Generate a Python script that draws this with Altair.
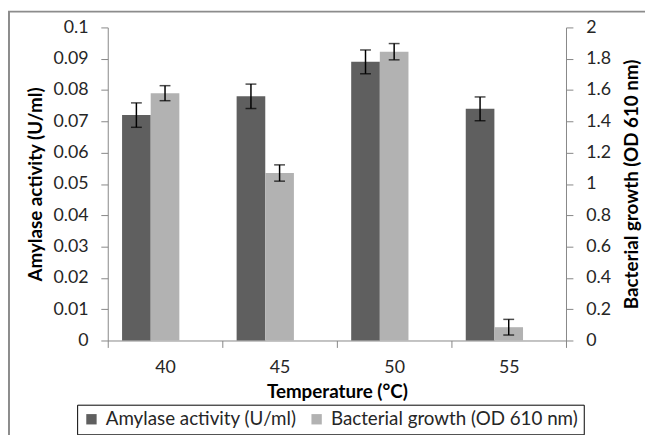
import altair as alt
import pandas as pd

# ---- data ----
temps = ["40", "45", "50", "55"]
amylase = [0.072, 0.078, 0.089, 0.074]
amylase_err = [0.0039, 0.0039, 0.0038, 0.0038]
growth = [1.58, 1.07, 1.845, 0.085]
growth_err = [0.048, 0.052, 0.052, 0.05]
series = ["Amylase activity (U/ml)", "Bacterial growth (OD 610 nm)"]
colors = ["#5f5f5f", "#b2b2b2"]
left_ticks = [0, 0.01, 0.02, 0.03, 0.04, 0.05, 0.06, 0.07, 0.08, 0.09, 0.1]
right_ticks = [0, 0.2, 0.4, 0.6, 0.8, 1.0, 1.2, 1.4, 1.6, 1.8, 2.0]

df_a = pd.DataFrame({
    "temp": temps,
    "value": amylase,
    "lo": [v - e for v, e in zip(amylase, amylase_err)],
    "hi": [v + e for v, e in zip(amylase, amylase_err)],
    "series": series[0],
})
df_g = pd.DataFrame({
    "temp": temps,
    "value": growth,
    "lo": [v - e for v, e in zip(growth, growth_err)],
    "hi": [v + e for v, e in zip(growth, growth_err)],
    "series": series[1],
})

FONT = "Lato"
GRAY = "#868686"
TXT = "#262626"

x_enc = alt.X(
    "temp:N", sort=temps,
    scale=alt.Scale(paddingInner=0, paddingOuter=0),
    axis=alt.Axis(
        title="Temperature (°C)", labelAngle=0, tickBand="extent",
        tickSize=7, labelPadding=11, domainColor=GRAY, tickColor=GRAY,
        titleY=58, titleBaseline="alphabetic",
    ),
)
xo_enc = alt.XOffset(
    "series:N",
    scale=alt.Scale(domain=series + ["_gap"], paddingInner=0, paddingOuter=0.5),
)
color_enc = alt.Color(
    "series:N",
    scale=alt.Scale(domain=series, range=colors),
    legend=alt.Legend(
        orient="none", legendX=-31, legendY=382, direction="horizontal",
        columns=2, title=None, strokeColor="black", fillColor="white",
        padding=5, columnPadding=10, labelOffset=5, labelLimit=0,
        symbolType="square", symbolSize=110, symbolStrokeWidth=0,
        labelFont=FONT, labelFontSize=19, labelColor=TXT,
    ),
)


def side(df, domain, ticks, fmt, orient, title, title_x):
    axis = alt.Axis(
        orient=orient, values=ticks, format=fmt, title=title,
        titleAngle=270, titleX=title_x, titleY=158.5, titleAlign="center",
        titleBaseline="middle", tickSize=7, labelPadding=13, grid=False,
        domainColor=GRAY, tickColor=GRAY,
    )
    scale = alt.Scale(domain=domain, nice=False, zero=True)
    base = alt.Chart(df)
    bars = base.mark_bar().encode(
        x=x_enc, xOffset=xo_enc,
        y=alt.Y("value:Q", scale=scale, axis=axis),
        color=color_enc,
    )
    rule = base.mark_rule(color="black", strokeWidth=1.5).encode(
        x=x_enc, xOffset=xo_enc,
        y=alt.Y("lo:Q", scale=scale, axis=axis), y2="hi:Q",
    )
    cap_hi = base.mark_tick(color="black", size=11, thickness=1.5).encode(
        x=x_enc, xOffset=xo_enc,
        y=alt.Y("hi:Q", scale=scale, axis=axis),
    )
    cap_lo = base.mark_tick(color="black", size=11, thickness=1.5).encode(
        x=x_enc, xOffset=xo_enc,
        y=alt.Y("lo:Q", scale=scale, axis=axis),
    )
    return alt.layer(bars, rule, cap_hi, cap_lo)


left = side(df_a, [0, 0.1], left_ticks, ".2~f", "left",
            "Amylase activity (U/ml)", -73)
right = side(df_g, [0, 2], right_ticks, ".1~f", "right",
             "Bacterial growth (OD 610 nm)", 66)

frame = alt.Chart(alt.Data(values=[{"k": 1}])).mark_rect(
    fill="transparent", stroke="#8c8c8c", strokeWidth=2
).encode(
    x=alt.value(-100), x2=alt.value(620),
    y=alt.value(-16), y2=alt.value(500),
)

chart = alt.layer(frame, left, right).resolve_scale(
    y="independent"
).properties(
    width=464, height=317,
    padding={"left": 101, "top": 17, "right": 80, "bottom": 93},
    autosize=alt.AutoSizeParams(type="none"),
).configure_axis(
    labelFont=FONT, labelFontSize=18, labelColor=TXT,
    titleFont=FONT, titleFontSize=19, titleFontWeight="bold", titleColor="black",
).configure_view(stroke="transparent")

chart.save("out.html", embed_options={"renderer": "svg", "actions": False})
